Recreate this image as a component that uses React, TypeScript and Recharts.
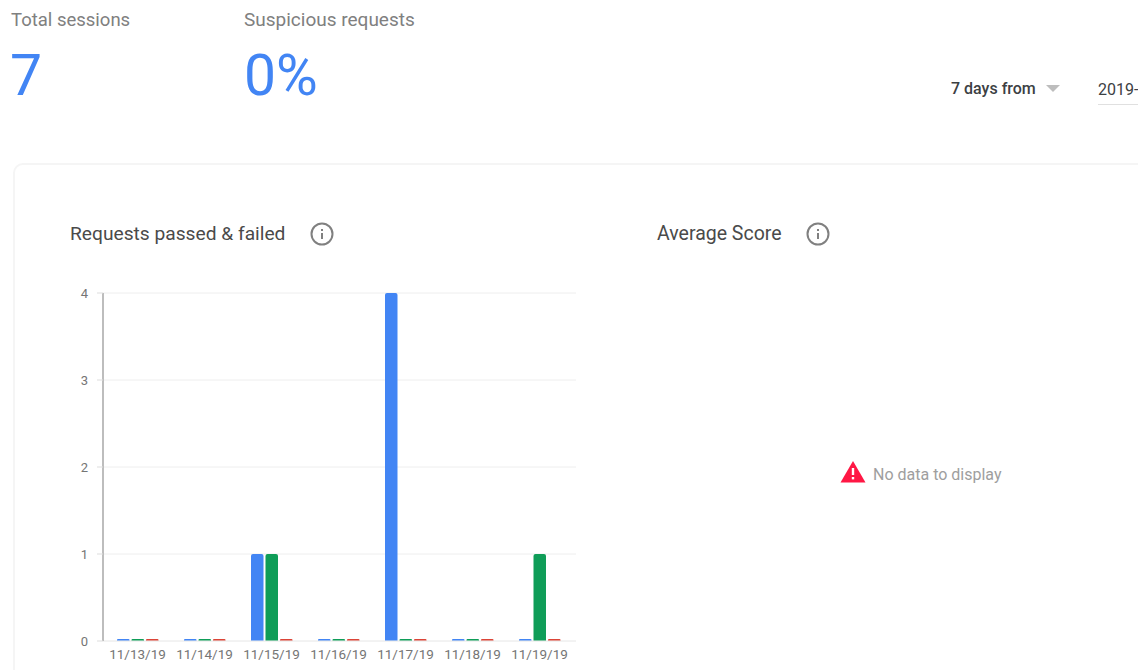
import { BarChart, Bar, XAxis, YAxis, CartesianGrid } from 'recharts';

const days = ['11/13/19', '11/14/19', '11/15/19', '11/16/19', '11/17/19', '11/18/19', '11/19/19'];
const sessions = [0, 0, 1, 0, 4, 0, 0];
const passed = [0, 0, 1, 0, 0, 0, 1];
const failed = [0, 0, 0, 0, 0, 0, 0];
const yTicks = [0, 1, 2, 3, 4];

const chartData = days.map((day, i) => ({
  day,
  sessions: sessions[i],
  passed: passed[i],
  failed: failed[i],
}));

const font = 'Roboto, sans-serif';

function Label({ x, y, size, color, weight, children }: any) {
  return (
    <div
      style={{
        position: 'absolute',
        left: x,
        top: y,
        fontSize: size,
        color,
        fontWeight: weight || 400,
        lineHeight: 1,
        whiteSpace: 'nowrap',
      }}
    >
      {children}
    </div>
  );
}

function InfoIcon({ x, y }: { x: number; y: number }) {
  return (
    <svg width={24} height={24} style={{ position: 'absolute', left: x, top: y }}>
      <circle cx={12} cy={12} r={10.5} fill="none" stroke="#808080" strokeWidth={2} />
      <rect x={11} y={11} width={2} height={6} fill="#808080" />
      <rect x={11} y={7} width={2} height={2} fill="#808080" />
    </svg>
  );
}

export default function App() {
  return (
    <div
      style={{
        position: 'absolute',
        left: 0,
        top: 0,
        width: 1138,
        height: 670,
        overflow: 'hidden',
        background: '#fff',
        fontFamily: font,
      }}
    >
      <Label x={11} y={10.5} size={18.5} color="#808080">Total sessions</Label>
      <Label x={244} y={10} size={19} color="#808080">Suspicious requests</Label>
      <Label x={10} y={47} size={57} color="#4285f4">7</Label>
      <Label x={244} y={47} size={57} color="#4285f4">0%</Label>

      <Label x={951} y={81} size={16} color="#3c4043" weight={500}>7 days from</Label>
      <svg width={14} height={8} style={{ position: 'absolute', left: 1046, top: 85 }}>
        <polygon points="0,0 14,0 7,7" fill="#bdbdbd" />
      </svg>
      <Label x={1098} y={82} size={16} color="#3c4043">2019-</Label>
      <div style={{ position: 'absolute', left: 1098, top: 104, width: 60, height: 1, background: '#e0e0e0' }} />

      <div
        style={{
          position: 'absolute',
          left: 13,
          top: 163,
          width: 1200,
          height: 600,
          border: '2px solid #f5f5f5',
          borderRadius: 10,
          boxSizing: 'border-box',
        }}
      />

      <Label x={70} y={223.5} size={19.2} color="#4a4a4a">Requests passed &amp; failed</Label>
      <InfoIcon x={310} y={222} />
      <Label x={657} y={223.5} size={19.5} color="#4a4a4a">Average Score</Label>
      <InfoIcon x={806} y={222} />

      <svg width={26} height={22} style={{ position: 'absolute', left: 840, top: 461 }}>
        <polygon points="13,0 25.5,21.5 0.5,21.5" fill="#ff1744" />
        <rect x={11.8} y={7} width={2.4} height={7} fill="#fff" />
        <rect x={11.8} y={16} width={2.4} height={2.4} fill="#fff" />
      </svg>
      <Label x={873} y={467} size={16} color="#9e9e9e">No data to display</Label>

      <div style={{ position: 'absolute', left: 0, top: 0 }}>
        <BarChart
          width={620}
          height={670}
          data={chartData}
          margin={{ top: 293, right: 44, bottom: 0, left: 0 }}
          barGap={2}
          barSize={12.5}
        >
          <CartesianGrid vertical={false} stroke="#eeeeee" />
          <XAxis
            dataKey="day"
            interval={0}
            height={29}
            padding={{ left: 1, right: 3 }}
            axisLine={{ stroke: '#eeeeee' }}
            tickLine={false}
            tickMargin={2}
            tick={{ fill: '#757575', fontSize: 13.5, fontFamily: font }}
          />
          <YAxis
            width={103}
            domain={[0, 4]}
            ticks={yTicks}
            allowDecimals={false}
            axisLine={{ stroke: '#bdbdbd', strokeWidth: 2 }}
            tickLine={{ stroke: '#dddddd' }}
            tickSize={6}
            tickMargin={9}
            tick={{ fill: '#757575', fontSize: 13, fontFamily: font }}
          />
          <Bar dataKey="sessions" fill="#4285f4" radius={[2, 2, 0, 0]} minPointSize={2} isAnimationActive={false} />
          <Bar dataKey="passed" fill="#0f9d58" radius={[2, 2, 0, 0]} minPointSize={2} isAnimationActive={false} />
          <Bar dataKey="failed" fill="#db4437" radius={[2, 2, 0, 0]} minPointSize={2} isAnimationActive={false} />
        </BarChart>
      </div>
    </div>
  );
}
